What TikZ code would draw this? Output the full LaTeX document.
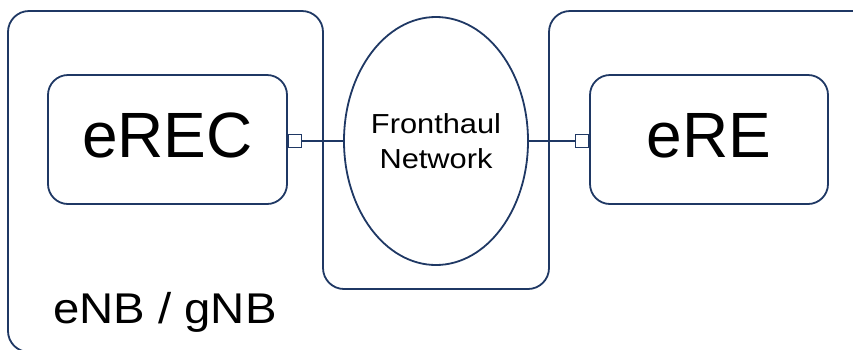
\documentclass[tikz,border=0pt]{standalone}
\usepackage{fontspec}
\usepackage{graphicx}
\setmainfont{Liberation Sans}
\usetikzlibrary{shapes.geometric}
\definecolor{ln}{HTML}{1F3864}
\begin{document}
\begin{tikzpicture}[x=1pt,y=-1pt,
  box/.style={draw=ln,line width=1.8pt,rounded corners=20pt,minimum width=239pt,minimum height=129pt,inner sep=0pt,text depth=8pt,font=\fontsize{64}{70}\selectfont},
  port/.style={draw=ln,line width=1.4pt,minimum size=13pt,inner sep=0pt,fill=white},
  conn/.style={draw=ln,line width=1.4pt},
  outline/.style={draw=ln,line width=1.8pt,rounded corners=21pt}]
\useasboundingbox (0,0) rectangle (853,349);
\begin{scope}
  \clip (0,0) rectangle (853,349);
  \draw[outline] (8,352) -- (8,11) -- (323,11) -- (323,289) -- (549,289) -- (549,11) -- (875,11) -- (875,352) -- cycle;
\end{scope}
\node[box] (erec) at (167.5,139.5) {eREC};
\node[box,minimum width=238pt] (ere) at (709,139.5) {eRE};
\node[ellipse,draw=ln,line width=1.8pt,minimum width=182pt,minimum height=248pt,inner sep=0pt,align=center,font=\fontsize{27.5}{35}\selectfont] (net) at (436,141)
  {\scalebox{1.12}[1]{Fronthaul}\\\scalebox{1.12}[1]{Network}};
\node[port,anchor=west] (p1) at (erec.east |- 0,141) {};
\node[port,anchor=east] (p2) at (ere.west |- 0,141) {};
\draw[conn] (p1.east) -- (p1.east -| net.west);
\draw[conn] (p2.west) -- (p2.west -| net.east);
\node[anchor=base west,inner sep=0pt,font=\fontsize{43}{48}\selectfont] (lbl) at (53,323) {\scalebox{1.1}[1]{eNB / gNB}};
\end{tikzpicture}
\end{document}
